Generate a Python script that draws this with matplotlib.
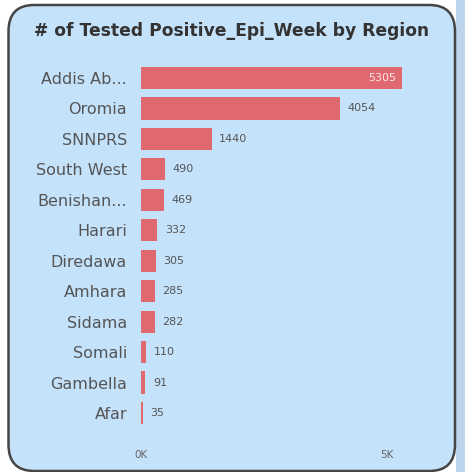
import matplotlib
matplotlib.use("Agg")
import matplotlib.pyplot as plt
from matplotlib.patches import FancyBboxPatch, Rectangle

regions = ["Addis Ab...", "Oromia", "SNNPRS", "South West", "Benishan...", "Harari",
           "Diredawa", "Amhara", "Sidama", "Somali", "Gambella", "Afar"]
positives = [5305, 4054, 1440, 490, 469, 332, 305, 285, 282, 110, 91, 35]
tick_vals = [0, 5000]
tick_text = ["0K", "5K"]

W, H = 465, 472
fig = plt.figure(figsize=(W / 100, H / 100), dpi=100)
fig.patch.set_facecolor("white")

# right-hand strip and the card
fig.add_artist(Rectangle((456 / W, 0), 9 / W, 1, transform=fig.transFigure,
                         facecolor="#bcd5ec", edgecolor="none", zorder=-2))
card = FancyBboxPatch((8.5 / W, 1 / H), 446.5 / W, 466 / H, transform=fig.transFigure,
                      boxstyle="round,pad=0,rounding_size=0.055",
                      facecolor="#c5e2fb", edgecolor="#454545", linewidth=1.8,
                      mutation_aspect=H / W, zorder=-1)
fig.add_artist(card)

fig.text(232 / W, 1 - 31 / H, "# of Tested Positive_Epi_Week by Region",
         ha="center", va="center", fontsize=12.3, fontweight="bold",
         color="#333333", family="DejaVu Sans")

xmax = 5600
left = 141 / W
width = (xmax / 5000 * 246) / W
top = 1 - 62.8 / H
bottom = 1 - 428.2 / H
ax = fig.add_axes([left, bottom, width, top - bottom])
ax.set_facecolor("none")

ypos = list(range(len(regions)))
ax.barh(ypos, positives, height=0.73, color="#e06870")
ax.set_ylim(len(regions) - 0.5, -0.5)
ax.set_xlim(0, xmax)

for y, v in zip(ypos, positives):
    if v > 5000:
        ax.text(v - 110, y, str(v), ha="right", va="center", fontsize=8,
                color="#fbe3e5")
    else:
        ax.text(v + 150, y, str(v), ha="left", va="center", fontsize=8,
                color="#555555")

ax.set_yticks(ypos)
ax.set_yticklabels(regions, fontsize=11.5, color="#555555")
ax.set_xticks(tick_vals)
ax.set_xticklabels(tick_text, fontsize=7.5, color="#666666")
ax.tick_params(axis="both", length=0)
ax.tick_params(axis="y", pad=10)
ax.tick_params(axis="x", pad=16)
ax.xaxis.grid(True, linestyle=(0, (1, 3)), color="#d8e8f5", linewidth=1)
ax.set_axisbelow(True)
for s in ax.spines.values():
    s.set_visible(False)

fig.savefig("out.png", dpi=100, facecolor=fig.get_facecolor())
